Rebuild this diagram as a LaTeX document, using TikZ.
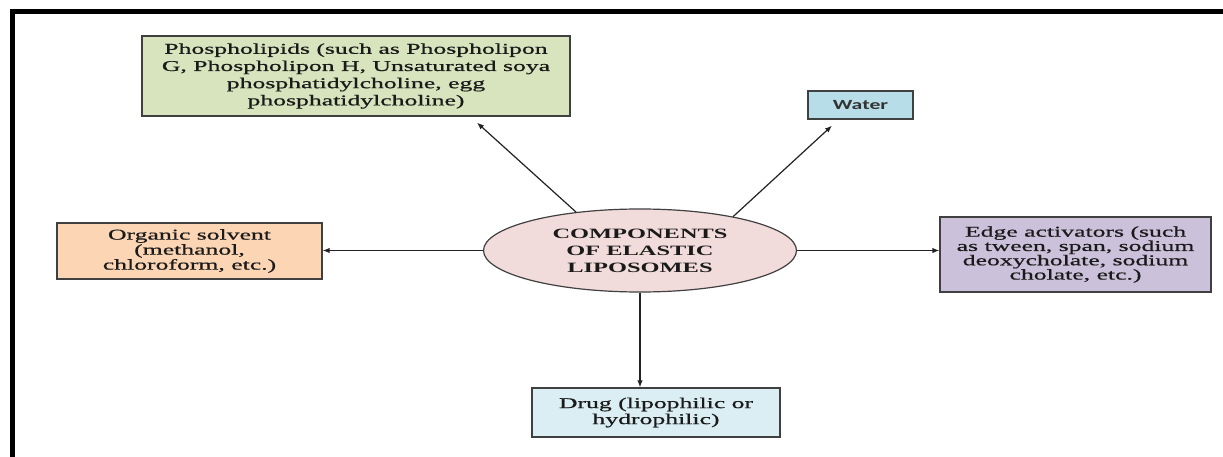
\documentclass[tikz,border=0pt]{standalone}
\usepackage{fontspec}
\usetikzlibrary{shapes.geometric,arrows.meta,calc}
\newfontfamily\boxserif[FakeStretch=1.713, FakeBold=0.7]{Liberation Serif}
\newfontfamily\ellserif[FakeStretch=1.713]{Liberation Serif Bold}
\newfontfamily\boxsans[FakeStretch=1.55]{Carlito Bold}
\definecolor{phosfill}{HTML}{D7E4BD}
\definecolor{waterfill}{HTML}{B7DEE8}
\definecolor{orgfill}{HTML}{FCD5B5}
\definecolor{ellfill}{HTML}{F2DCDB}
\definecolor{edgefill}{HTML}{CCC1DA}
\definecolor{drugfill}{HTML}{DBEEF4}
\definecolor{boxline}{HTML}{404040}
\definecolor{textc}{HTML}{1A1A1A}
\definecolor{arrowc}{HTML}{222222}
\begin{document}
\begin{tikzpicture}[x=1pt,y=-1pt,
  box/.style={draw=boxline, line width=1.3pt, rectangle, inner sep=0pt, align=center, text=textc},
  conn/.style={-{Latex[length=7pt,width=5.5pt]}, line width=1.2pt, draw=arrowc},
  serif/.style={font=\boxserif\fontsize{15}{#1}\selectfont}
]
\useasboundingbox (0,0) rectangle (1223,457);
\clip (0,0) rectangle (1223,457);
\fill[white] (0,0) rectangle (1223,457);
% outer frame (cut by the page edge on the right and bottom)
\draw[line width=5pt] (12,470) -- (12,12) -- (1240,12);

\node[box, fill=phosfill, minimum width=428pt, minimum height=80pt, serif=17.2] (phos) at (356,76)
  {Phospholipids (such as Phospholipon\\ G, Phospholipon H, Unsaturated soya\\ phosphatidylcholine, egg\\ phosphatidylcholine)};
\node[box, fill=waterfill, minimum width=105pt, minimum height=28pt, text=black!80, font=\boxsans\fontsize{14}{16}\selectfont] (water) at (860.5,105) {Water};
\node[box, fill=orgfill, minimum width=265pt, minimum height=56pt, serif=15] (org) at (189.5,251)
  {Organic solvent\\ (methanol,\\ chloroform, etc.)};
\node[box, fill=edgefill, minimum width=271pt, minimum height=75pt, serif=14.3] (edge) at (1075.5,254.5)
  {Edge activators (such\\ as tween, span, sodium\\ deoxycholate, sodium\\ cholate, etc.)};
\node[box, fill=drugfill, minimum width=248pt, minimum height=49pt, serif=16] (drug) at (656,412.5)
  {Drug (lipophilic or\\ hydrophilic)};
\node[ellipse, draw=boxline, line width=1.2pt, fill=ellfill, minimum width=313pt, minimum height=83pt,
  inner sep=0pt, align=center, text=textc, font=\ellserif\fontsize{14.25}{17}\selectfont] (ell) at (640,250.5)
  {COMPONENTS\\ OF ELASTIC\\ LIPOSOMES};

\draw[conn] (ell.149) -- ($(phos.south)+(121,6)$);
\draw[conn] (ell.20) -- ($(water.south)+(-28.5,6)$);
\draw[conn] (ell.west) -- (ell.west -| org.east);
\draw[conn] (ell.east) -- (ell.east -| edge.west);
\draw[conn] (ell.south) -- (ell.south |- drug.north);
\end{tikzpicture}
\end{document}
